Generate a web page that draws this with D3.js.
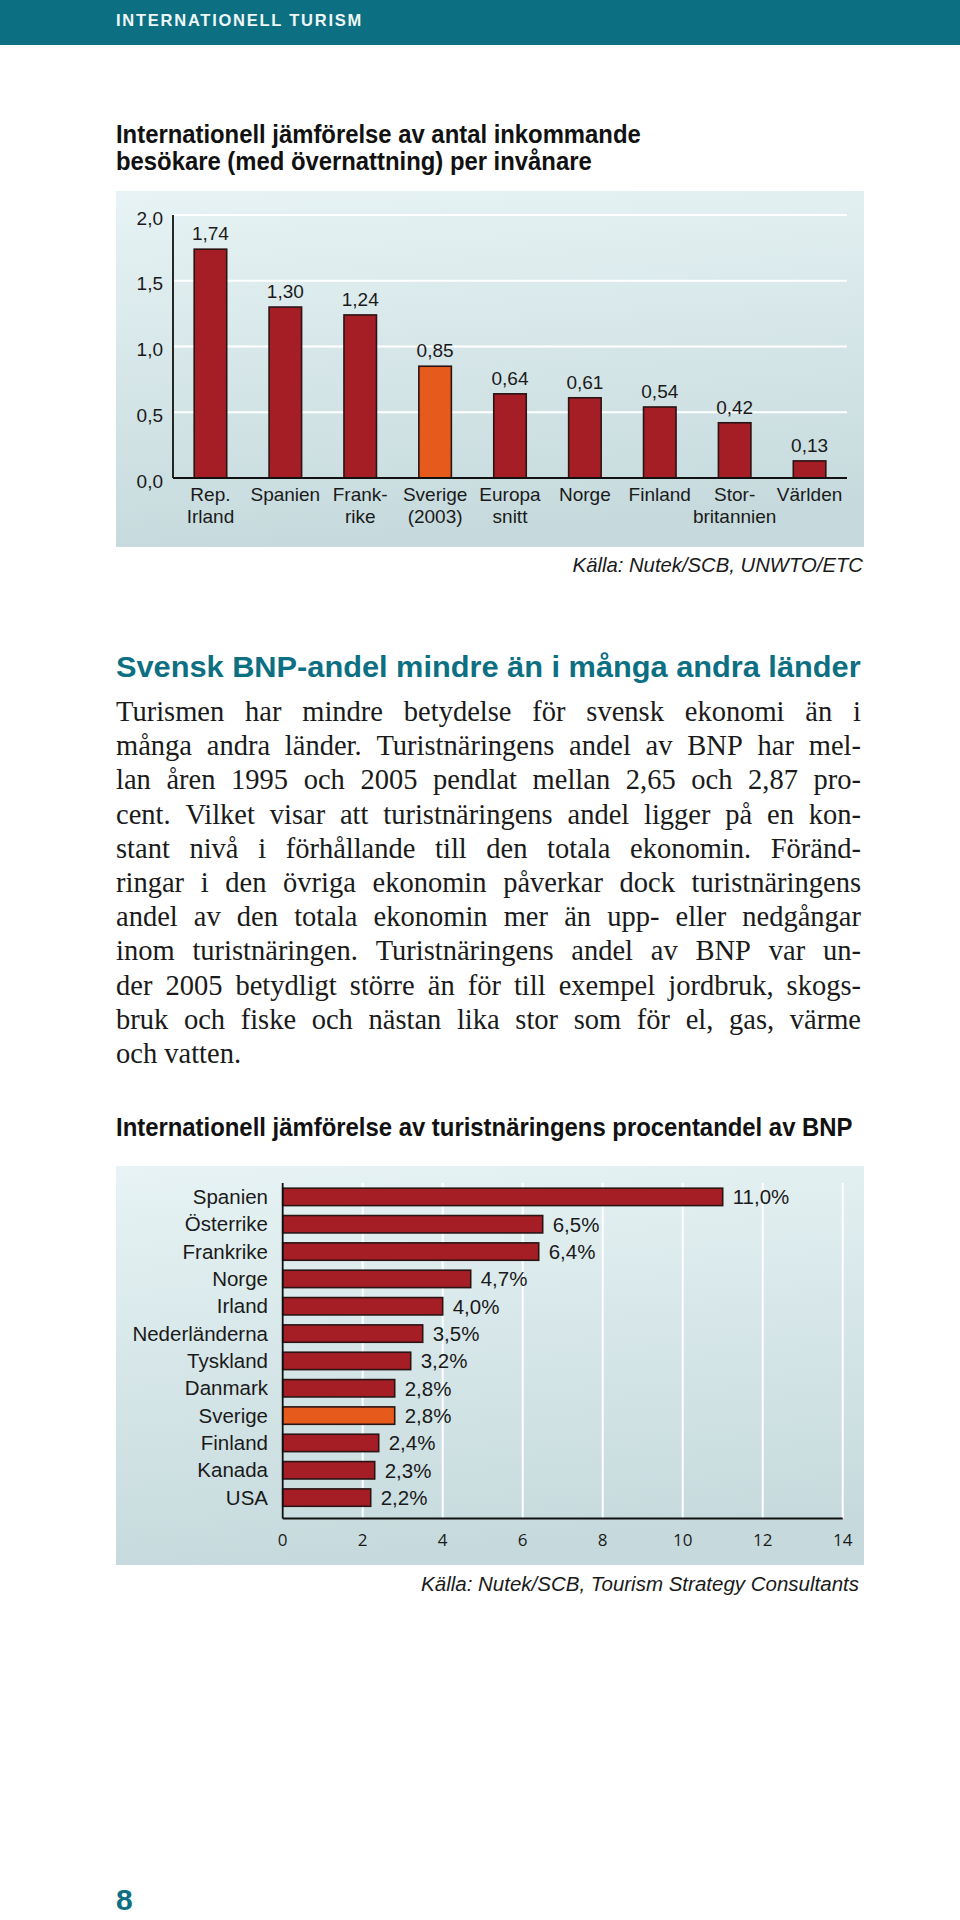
<!DOCTYPE html>
<html><head><meta charset="utf-8">
<script src="https://cdn.jsdelivr.net/npm/d3@7"></script>
<style>body{margin:0;background:#fff}svg{display:block}</style>
</head><body>
<script>
// ---------- data ----------
const visitCategories = ["Rep.\nIrland","Spanien","Frank-\nrike","Sverige\n(2003)","Europa\nsnitt","Norge","Finland","Stor-\nbritannien","Världen"];
const visitValues = [1.74,1.30,1.24,0.85,0.64,0.61,0.54,0.42,0.13];
const visitTicks = [0,0.5,1.0,1.5,2.0];
const visitHighlight = "Sverige\n(2003)";

const gdpCategories = ["Spanien","Österrike","Frankrike","Norge","Irland","Nederländerna","Tyskland","Danmark","Sverige","Finland","Kanada","USA"];
const gdpValues = [11.0,6.5,6.4,4.7,4.0,3.5,3.2,2.8,2.8,2.4,2.3,2.2];
const gdpTicks = [0,2,4,6,8,10,12,14];
const gdpHighlight = "Sverige";

const headerText = "INTERNATIONELL TURISM";
const title1Lines = ["Internationell jämförelse av antal inkommande","besökare (med övernattning) per invånare"];
const source1 = "Källa: Nutek/SCB, UNWTO/ETC";
const headingText = "Svensk BNP-andel mindre än i många andra länder";
const bodyLines = [
"Turismen har mindre betydelse för svensk ekonomi än i",
"många andra länder. Turistnäringens andel av BNP har mel-",
"lan åren 1995 och 2005 pendlat mellan 2,65 och 2,87 pro-",
"cent. Vilket visar att turistnäringens andel ligger på en kon-",
"stant nivå i förhållande till den totala ekonomin. Föränd-",
"ringar i den övriga ekonomin påverkar dock turistnäringens",
"andel av den totala ekonomin mer än upp- eller nedgångar",
"inom turistnäringen. Turistnäringens andel av BNP var un-",
"der 2005 betydligt större än för till exempel jordbruk, skogs-",
"bruk och fiske och nästan lika stor som för el, gas, värme",
"och vatten."];
const title2 = "Internationell jämförelse av turistnäringens procentandel av BNP";
const source2 = "Källa: Nutek/SCB, Tourism Strategy Consultants";
const pageNumber = "8";

// ---------- style ----------
const TEAL = "#0d6f82", RED = "#a51d25", ORANGE = "#e65a1c", STROKE = "#2a1414";
const SANS = "'Liberation Sans', Arial, Helvetica, sans-serif";
const SERIF = "'Liberation Serif', 'Times New Roman', serif";
const locale = d3.formatLocale({decimal: ",", thousands: " ", grouping: [3], currency: ["", ""]});
const f1 = locale.format(".1f"), f2 = locale.format(".2f");

const svg = d3.select("body").append("svg").attr("width", 960).attr("height", 1920);
const defs = svg.append("defs");
const grad = defs.append("linearGradient").attr("id", "panel").attr("x1", 0).attr("y1", 0).attr("x2", 0.15).attr("y2", 1);
grad.append("stop").attr("offset", "0%").attr("stop-color", "#e7f3f4");
grad.append("stop").attr("offset", "100%").attr("stop-color", "#c6dadd");

// condensed text: fits a text element to a target width by horizontal scaling
function condensed(g, x, y, txt, size, targetW, attrs) {
  const gg = g.append("g");
  const t = gg.append("text").attr("x", 0).attr("y", 0).text(txt).attr("font-size", size);
  Object.entries(attrs).forEach(([k, v]) => t.attr(k, v));
  const w = t.node().getComputedTextLength();
  const k = targetW / w;
  gg.attr("transform", `translate(${x},${y}) scale(${k},1)`);
  return k;
}

// header
svg.append("rect").attr("x", 0).attr("y", 0).attr("width", 960).attr("height", 45).attr("fill", TEAL);
svg.append("text").attr("x", 116).attr("y", 26).text(headerText)
  .attr("font-family", SANS).attr("font-weight", "bold").attr("font-size", 16.5)
  .attr("letter-spacing", 1.75).attr("fill", "#eef7f8");

// title 1 (condensed bold)
const tAttrs = {"font-family": SANS, "font-weight": "bold", fill: "#111"};
const kT = condensed(svg, 116, 143, title1Lines[0], 25, 525, tAttrs);
{
  const g = svg.append("g").attr("transform", `translate(116,170) scale(${kT},1)`);
  const t = g.append("text").text(title1Lines[1]).attr("font-size", 25);
  Object.entries(tAttrs).forEach(([k, v]) => t.attr(k, v));
}

// ---------- chart 1 ----------
const p1 = {x: 116, y: 191, w: 748, h: 356};
svg.append("rect").attr("x", p1.x).attr("y", p1.y).attr("width", p1.w).attr("height", p1.h).attr("fill", "url(#panel)");
const x1 = d3.scaleBand().domain(visitCategories).range([173, 847]).paddingInner(0.566).paddingOuter(0.283);
const y1 = d3.scaleLinear().domain([0, 2]).range([478, 215]);
const c1 = svg.append("g");
c1.selectAll(".grid").data(visitTicks.filter(t => t > 0)).join("line")
  .attr("x1", 173).attr("x2", 847).attr("y1", d => y1(d)).attr("y2", d => y1(d))
  .attr("stroke", "#ffffff").attr("stroke-width", 2);
c1.selectAll(".tick").data(visitTicks).join("text")
  .attr("x", 163).attr("y", d => y1(d) + 9.5).attr("text-anchor", "end").text(d => f1(d))
  .attr("font-family", SANS).attr("font-size", 19).attr("fill", "#1a1a1a");
c1.selectAll("rect.bar").data(visitValues).join("rect").attr("class", "bar")
  .attr("x", (d, i) => x1(visitCategories[i])).attr("width", x1.bandwidth())
  .attr("y", d => y1(d)).attr("height", d => y1(0) - y1(d))
  .attr("fill", (d, i) => visitCategories[i] === visitHighlight ? ORANGE : RED)
  .attr("stroke", STROKE).attr("stroke-width", 1.6);
c1.selectAll("text.val").data(visitValues).join("text").attr("class", "val")
  .attr("x", (d, i) => x1(visitCategories[i]) + x1.bandwidth() / 2).attr("y", d => y1(d) - 9)
  .attr("text-anchor", "middle").text(d => f2(d))
  .attr("font-family", SANS).attr("font-size", 19).attr("fill", "#1a1a1a");
c1.append("line").attr("x1", 173).attr("x2", 173).attr("y1", y1(2)).attr("y2", y1(0)).attr("stroke", "#111").attr("stroke-width", 1.8);
c1.append("line").attr("x1", 173).attr("x2", 847).attr("y1", y1(0)).attr("y2", y1(0)).attr("stroke", "#111").attr("stroke-width", 2);
const catG = c1.selectAll("text.cat").data(visitCategories).join("text").attr("class", "cat")
  .attr("text-anchor", "middle").attr("font-family", SANS).attr("font-size", 19).attr("fill", "#1a1a1a");
catG.selectAll("tspan").data(d => d.split("\n").map(s => ({s, c: d}))).join("tspan")
  .attr("x", d => x1(d.c) + x1.bandwidth() / 2).attr("y", (d, i) => y1(0) + 23 + i * 22).text(d => d.s);
svg.append("text").attr("x", 863).attr("y", 572).attr("text-anchor", "end").text(source1)
  .attr("font-family", SANS).attr("font-style", "italic").attr("font-size", 20.3).attr("fill", "#1a1a1a");

// ---------- heading & body ----------
condensed(svg, 116, 677, headingText, 30, 745, {"font-family": SANS, "font-weight": "bold", fill: TEAL});

const bodyW = 745, bodyX = 116, fs = 28.5;
const body = svg.append("g").attr("font-family", SERIF).attr("font-size", fs).attr("fill", "#1a1a1a");
// measure natural widths and find horizontal compression so that every line fits
const probe = body.append("text");
let maxNat = 0;
bodyLines.forEach(l => { probe.text(l); maxNat = Math.max(maxNat, probe.node().getComputedTextLength()); });
probe.remove();
const kB = Math.min(1, bodyW * 0.99 / maxNat);
body.attr("transform", `translate(${bodyX},0) scale(${kB},1)`);
const innerW = bodyW / kB;
bodyLines.forEach((line, li) => {
  const y = 721 + li * 34.2;
  const words = line.split(" ");
  const ws = words.map(w => { const t = body.append("text").text(w); const len = t.node().getComputedTextLength(); t.remove(); return len; });
  const total = d3.sum(ws);
  const last = li === bodyLines.length - 1;
  const gap = last ? fs * 0.25 : (innerW - total) / (words.length - 1);
  let cx = 0;
  words.forEach((w, i) => {
    body.append("text").attr("x", cx).attr("y", y).text(w);
    cx += ws[i] + gap;
  });
});

// title 2
condensed(svg, 116, 1136, title2, 25, 737, tAttrs);

// ---------- chart 2 ----------
const p2 = {x: 116, y: 1166, w: 748, h: 399};
svg.append("rect").attr("x", p2.x).attr("y", p2.y).attr("width", p2.w).attr("height", p2.h).attr("fill", "url(#panel)");
const x2 = d3.scaleLinear().domain([0, 14]).range([282.7, 842.7]);
const y2 = d3.scaleBand().domain(gdpCategories).range([1180, 1514.5]).paddingInner(0.364).paddingOuter(0.3);
const top2 = 1183, base2 = 1518.5;
const c2 = svg.append("g");
c2.selectAll(".grid").data(gdpTicks.filter(t => t > 0)).join("line")
  .attr("x1", d => x2(d)).attr("x2", d => x2(d)).attr("y1", top2).attr("y2", base2)
  .attr("stroke", "#ffffff").attr("stroke-width", 2);
c2.selectAll("rect.bar").data(gdpValues).join("rect").attr("class", "bar")
  .attr("x", x2(0)).attr("y", (d, i) => y2(gdpCategories[i]))
  .attr("width", d => x2(d) - x2(0)).attr("height", y2.bandwidth())
  .attr("fill", (d, i) => gdpCategories[i] === gdpHighlight ? ORANGE : RED)
  .attr("stroke", STROKE).attr("stroke-width", 1.6);
c2.selectAll("text.val").data(gdpValues).join("text").attr("class", "val")
  .attr("x", d => x2(d) + 10).attr("y", (d, i) => y2(gdpCategories[i]) + y2.bandwidth() / 2 + 7.5)
  .text(d => f1(d) + "%")
  .attr("font-family", SANS).attr("font-size", 20.5).attr("fill", "#1a1a1a");
c2.selectAll("text.cat").data(gdpCategories).join("text").attr("class", "cat")
  .attr("x", 268).attr("y", d => y2(d) + y2.bandwidth() / 2 + 7).attr("text-anchor", "end").text(d => d)
  .attr("font-family", SANS).attr("font-size", 20.5).attr("fill", "#1a1a1a");
c2.append("line").attr("x1", x2(0)).attr("x2", x2(0)).attr("y1", top2).attr("y2", base2).attr("stroke", "#111").attr("stroke-width", 1.8);
c2.append("line").attr("x1", x2(0)).attr("x2", x2(14)).attr("y1", base2).attr("y2", base2).attr("stroke", "#111").attr("stroke-width", 2);
c2.selectAll("text.tick").data(gdpTicks).join("text").attr("class", "tick")
  .attr("x", d => x2(d)).attr("y", 1546).attr("text-anchor", "middle").text(d => d)
  .attr("font-family", "'Open Sans', sans-serif").attr("font-size", 17).attr("fill", "#1a1a1a");
svg.append("text").attr("x", 859).attr("y", 1591).attr("text-anchor", "end").text(source2)
  .attr("font-family", SANS).attr("font-style", "italic").attr("font-size", 20.5).attr("fill", "#1a1a1a");

// page number
svg.append("text").attr("x", 116).attr("y", 1910).text(pageNumber)
  .attr("font-family", SANS).attr("font-weight", "bold").attr("font-size", 30).attr("fill", TEAL);
</script>
</body></html>
